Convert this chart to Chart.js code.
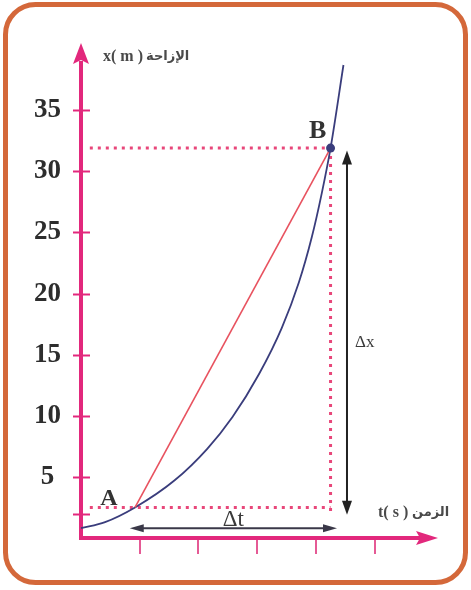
<!DOCTYPE html>
<html>
<head>
<meta charset="utf-8">
<script src="https://cdn.jsdelivr.net/npm/chart.js@4/dist/chart.umd.min.js"></script>
<style>
  html, body { margin: 0; padding: 0; background: #fff; }
  canvas { display: block; }
</style>
</head>
<body>
<canvas id="grafico" width="471" height="590"></canvas>
<script>
// curva x(t): tempo (s) e posição (m)
const tempos   = [0, 0.41, 0.92, 1.59, 2.15, 2.58, 3.03, 3.42, 3.71, 3.93, 4.10, 4.25, 4.47];
const posicoes = [0.8, 1.3, 2.5, 4.7, 7.3, 9.9, 13.4, 17.2, 20.9, 24.6, 28.2, 31.9, 38.7];

// pontos A e B da corda [t, x]
const pontoA = [0.92, 2.5];
const pontoB = [4.25, 31.9];

// inicio das linhas tracejadas e setas Δx / Δt
const inicioTracejado = 0.15;
const setaDx = [4.53, 31.7, 1.9];   // [t, x topo, x base]
const setaDt = [0.8, 0.83, 4.36];   // [x, t inicio, t fim]

// marcas dos eixos
const ticksY = [2, 5, 10, 15, 20, 25, 30, 35];
const rotulosY = ['', '5', '10', '15', '20', '25', '30', '35'];
const ticksX = [1, 2, 3, 4, 5];

const ROSA = '#e2287c';
const PONTILHADO = '#e8477a';
const VERMELHO = '#e8525f';
const AZUL = '#3a3d7c';
const LARANJA = '#d4683a';

const pts = (ts, xs) => ts.map((t, i) => ({ x: t, y: xs[i] }));

function seta(ctx, x1, y1, x2, y2, cor, comp, larg) {
    // linha com ponta nas duas extremidades
    const ang = Math.atan2(y2 - y1, x2 - x1);
    ctx.save();
    ctx.strokeStyle = cor;
    ctx.fillStyle = cor;
    ctx.lineWidth = 2;
    ctx.beginPath();
    ctx.moveTo(x1 + Math.cos(ang) * comp * 0.8, y1 + Math.sin(ang) * comp * 0.8);
    ctx.lineTo(x2 - Math.cos(ang) * comp * 0.8, y2 - Math.sin(ang) * comp * 0.8);
    ctx.stroke();
    [[x1, y1, ang + Math.PI], [x2, y2, ang]].forEach(([px, py, a]) => {
        ctx.beginPath();
        ctx.moveTo(px, py);
        ctx.lineTo(px - Math.cos(a) * comp - Math.sin(a) * larg, py - Math.sin(a) * comp + Math.cos(a) * larg);
        ctx.lineTo(px - Math.cos(a) * comp + Math.sin(a) * larg, py - Math.sin(a) * comp - Math.cos(a) * larg);
        ctx.closePath();
        ctx.fill();
    });
    ctx.restore();
}

const moldura = {
    id: 'moldura',
    beforeDraw(chart) {
        const ctx = chart.ctx;
        ctx.save();
        ctx.fillStyle = '#fff';
        ctx.fillRect(0, 0, chart.width, chart.height);
        ctx.strokeStyle = LARANJA;
        ctx.lineWidth = 5;
        ctx.beginPath();
        ctx.roundRect(5.5, 4.5, 460, 578, 30);
        ctx.stroke();
        ctx.restore();
    }
};

const eixos = {
    id: 'eixos',
    beforeDatasetsDraw(chart) {
        const { ctx, chartArea: a, scales: { x, y } } = chart;
        ctx.save();
        ctx.strokeStyle = ROSA;
        ctx.fillStyle = ROSA;

        // marcas
        ctx.lineWidth = 2;
        ticksY.forEach(v => {
            const py = Math.round(y.getPixelForValue(v)) + 0.5;
            ctx.beginPath();
            ctx.moveTo(a.left - 8, py);
            ctx.lineTo(a.left + 9, py);
            ctx.stroke();
        });
        ctx.strokeStyle = '#e55a95';
        ticksX.forEach(v => {
            const px = Math.round(x.getPixelForValue(v));
            ctx.beginPath();
            ctx.moveTo(px, a.bottom + 2);
            ctx.lineTo(px, a.bottom + 16);
            ctx.stroke();
        });

        // eixos com setas
        ctx.strokeStyle = ROSA;
        ctx.lineWidth = 4;
        ctx.beginPath();
        ctx.moveTo(a.left, a.bottom + 2);
        ctx.lineTo(a.left, a.top + 18);
        ctx.moveTo(a.left - 2, a.bottom);
        ctx.lineTo(a.right - 18, a.bottom);
        ctx.stroke();

        ctx.beginPath();
        ctx.moveTo(a.left, a.top);
        ctx.lineTo(a.left - 8, a.top + 21);
        ctx.lineTo(a.left, a.top + 17);
        ctx.lineTo(a.left + 8, a.top + 21);
        ctx.closePath();
        ctx.fill();

        ctx.beginPath();
        ctx.moveTo(a.right, a.bottom);
        ctx.lineTo(a.right - 22, a.bottom - 7);
        ctx.lineTo(a.right - 18, a.bottom);
        ctx.lineTo(a.right - 22, a.bottom + 7);
        ctx.closePath();
        ctx.fill();
        ctx.restore();
    },
    afterDatasetsDraw(chart) {
        const { ctx, scales: { x, y } } = chart;

        // Δx e Δt
        const dxX = x.getPixelForValue(setaDx[0]);
        seta(ctx, dxX, y.getPixelForValue(setaDx[1]), dxX, y.getPixelForValue(setaDx[2]), '#222', 14, 5);
        const dtY = y.getPixelForValue(setaDt[0]);
        seta(ctx, x.getPixelForValue(setaDt[1]), dtY, x.getPixelForValue(setaDt[2]), dtY, '#3a3848', 14, 4);

        const aX = x.getPixelForValue(pontoA[0]), aY = y.getPixelForValue(pontoA[1]);
        const bX = x.getPixelForValue(pontoB[0]), bY = y.getPixelForValue(pontoB[1]);

        ctx.save();
        ctx.fillStyle = '#333';
        ctx.textBaseline = 'middle';
        ctx.textAlign = 'center';
        ctx.font = 'bold 24px "Liberation Serif"';
        ctx.fillText('A', aX - 26, aY - 9);
        ctx.font = 'bold 26px "Liberation Serif"';
        ctx.fillText('B', bX - 13, bY - 17);

        ctx.font = '23px "Liberation Serif"';
        ctx.fillStyle = '#3a3a3a';
        ctx.fillText('Δt', (x.getPixelForValue(setaDt[1]) + x.getPixelForValue(setaDt[2])) / 2, dtY - 8);
        ctx.textAlign = 'left';
        ctx.font = '17px "Liberation Serif"';
        ctx.fillText('Δx', dxX + 8, y.getPixelForValue(16));

        // títulos dos eixos
        ctx.fillStyle = '#4a4a4a';
        ctx.font = 'bold 16px "Liberation Serif"';
        ctx.fillText('x( m )', 103, 57);
        ctx.fillText('t( s )', 378, 513);
        ctx.font = 'bold 13px "DejaVu Sans"';
        ctx.fillText('الإزاحة', 146, 57);
        ctx.fillText('الزمن', 412, 513);
        ctx.restore();
    }
};

new Chart(document.getElementById('grafico'), {
    type: 'scatter',
    data: {
        datasets: [{
            // corda AB
            data: pts([pontoA[0], pontoB[0]], [pontoA[1], pontoB[1]]),
            showLine: true,
            borderColor: VERMELHO,
            borderWidth: 1.6,
            pointRadius: [0, 4.5],
            pointBackgroundColor: AZUL,
            pointBorderWidth: 0
        }, {
            // curva x(t)
            data: pts(tempos, posicoes),
            showLine: true,
            borderColor: AZUL,
            borderWidth: 1.8,
            cubicInterpolationMode: 'monotone',
            pointRadius: 0
        }, {
            data: pts([inicioTracejado, pontoB[0]], [pontoB[1], pontoB[1]]),
            showLine: true,
            borderColor: PONTILHADO,
            borderWidth: 3,
            borderDash: [3, 5],
            pointRadius: 0
        }, {
            data: pts([pontoB[0], pontoB[0]], [pontoB[1], setaDx[2] + 0.3]),
            showLine: true,
            borderColor: PONTILHADO,
            borderWidth: 3,
            borderDash: [3, 5],
            pointRadius: 0
        }, {
            data: pts([inicioTracejado, pontoB[0]], [pontoA[1], pontoA[1]]),
            showLine: true,
            borderColor: PONTILHADO,
            borderWidth: 3,
            borderDash: [3, 5],
            pointRadius: 0
        }]
    },
    options: {
        responsive: false,
        animation: false,
        events: [],
        clip: false,
        layout: { padding: { top: 43, right: 33, left: 0, bottom: 0 } },
        plugins: { legend: { display: false }, tooltip: { enabled: false } },
        scales: {
            x: {
                type: 'linear',
                min: 0,
                max: 6.08,
                grid: { display: false },
                border: { display: false },
                ticks: { display: false },
                afterFit: (scale) => { scale.height = 52; }
            },
            y: {
                type: 'linear',
                min: 0,
                max: 40.5,
                grid: { display: false },
                border: { display: false },
                afterBuildTicks: (scale) => {
                    scale.ticks = ticksY.map(v => ({ value: v }));
                },
                ticks: {
                    autoSkip: false,
                    padding: 12,
                    crossAlign: 'center',
                    color: '#2d2d2d',
                    font: { family: 'Liberation Serif', size: 27, weight: 'bold' },
                    callback: (v, i) => rotulosY[i]
                },
                afterFit: (scale) => { scale.width = 81; }
            }
        }
    },
    plugins: [moldura, eixos]
});
</script>
</body>
</html>
